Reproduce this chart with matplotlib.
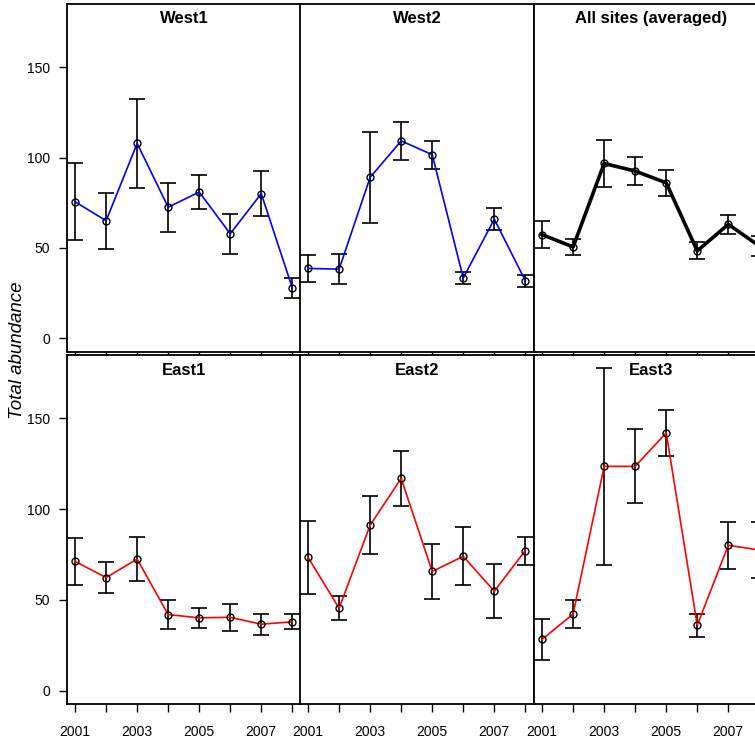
import matplotlib
matplotlib.use("Agg")
import matplotlib.pyplot as plt
import numpy as np

plt.rcParams['font.family'] = ['Liberation Sans', 'DejaVu Sans']

years = [2001, 2002, 2003, 2004, 2005, 2006, 2007, 2008]

west1_mean = [75.5, 65.0, 107.8, 72.5, 80.9, 57.8, 80.0, 27.8]
west1_err = [21.4, 15.6, 24.4, 13.5, 9.2, 11.2, 12.3, 5.5]
west2_mean = [38.6, 38.2, 89.0, 109.2, 101.6, 33.3, 65.9, 31.8]
west2_err = [7.5, 8.3, 25.0, 10.4, 7.8, 3.3, 6.1, 3.3]
all_mean = [57.3, 50.5, 96.7, 92.5, 86.0, 48.3, 63.0, 51.0]
all_err = [7.6, 4.4, 13.2, 7.7, 7.2, 4.7, 5.3, 5.3]
east1_mean = [71.2, 62.3, 72.5, 41.9, 40.1, 40.4, 36.6, 37.9]
east1_err = [13.0, 8.5, 12.3, 7.8, 5.4, 7.5, 5.8, 4.2]
east2_mean = [73.4, 45.4, 91.2, 117.0, 65.7, 74.0, 54.8, 77.2]
east2_err = [20.0, 6.7, 16.0, 15.2, 15.0, 16.0, 14.8, 7.7]
east3_mean = [28.2, 42.2, 123.6, 123.6, 142.1, 36.0, 80.1, 77.5]
east3_err = [11.2, 7.8, 54.5, 20.4, 12.7, 6.4, 12.9, 15.2]

titles = ["West1", "West2", "All sites (averaged)", "East1", "East2", "East3"]
means = [west1_mean, west2_mean, all_mean, east1_mean, east2_mean, east3_mean]
errs = [west1_err, west2_err, all_err, east1_err, east2_err, east3_err]
colors = ["#0000ff", "#0000ff", "black", "#ff0000", "#ff0000", "#ff0000"]
widths = [1.2, 1.2, 2.6, 1.2, 1.2, 1.2]

yticks = [0, 50, 100, 150]
xtick_labels_years = [2001, 2003, 2005, 2007]

W, H = 755, 740
fig = plt.figure(figsize=(W / 100, H / 100), dpi=100)

col_left = [67, 300, 534]
col_w = 234
row_top = [4, 355]
row_bot = [351.5, 704]

for i in range(6):
    r, c = divmod(i, 3)
    ax = fig.add_axes([col_left[c] / W, 1 - row_bot[r] / H, col_w / W,
                       (row_bot[r] - row_top[r]) / H])
    x = np.array(years)
    ax.plot(x, means[i], color=colors[i], lw=widths[i], zorder=3, clip_on=False)
    ax.errorbar(x, means[i], yerr=errs[i], fmt='none', ecolor='black',
                elinewidth=1.2, capsize=6, capthick=1.2, zorder=2, clip_on=False)
    ax.plot(x, means[i], 'o', ms=5, mfc='none', mec='black', mew=1.0,
            zorder=4, clip_on=False)
    ax.set_xlim(2000.74, 2008.28)
    ax.set_ylim(-7.4, 185)
    ax.set_xticks(years)
    if r == 1:
        ax.set_xticklabels([str(y) if y in xtick_labels_years else "" for y in years])
    else:
        ax.set_xticklabels([])
    if c == 0:
        ax.set_yticks(yticks)
        ax.tick_params(axis='y', length=6, width=1.0, pad=6, labelsize=10)
    else:
        ax.set_yticks([])
    ax.tick_params(axis='x', direction='out', length=6, width=1.0, pad=9, labelsize=10)
    for s in ax.spines.values():
        s.set_linewidth(1.3)
    ax.text(0.5, 0.957, titles[i], transform=ax.transAxes, ha='center',
            va='center', fontsize=12, fontweight='bold')

fig.text(18 / W, 1 - 350 / H, "Total abundance", rotation=90, ha='center',
         va='center', fontsize=13.5, style='italic')

fig.savefig("out.png", dpi=100)
